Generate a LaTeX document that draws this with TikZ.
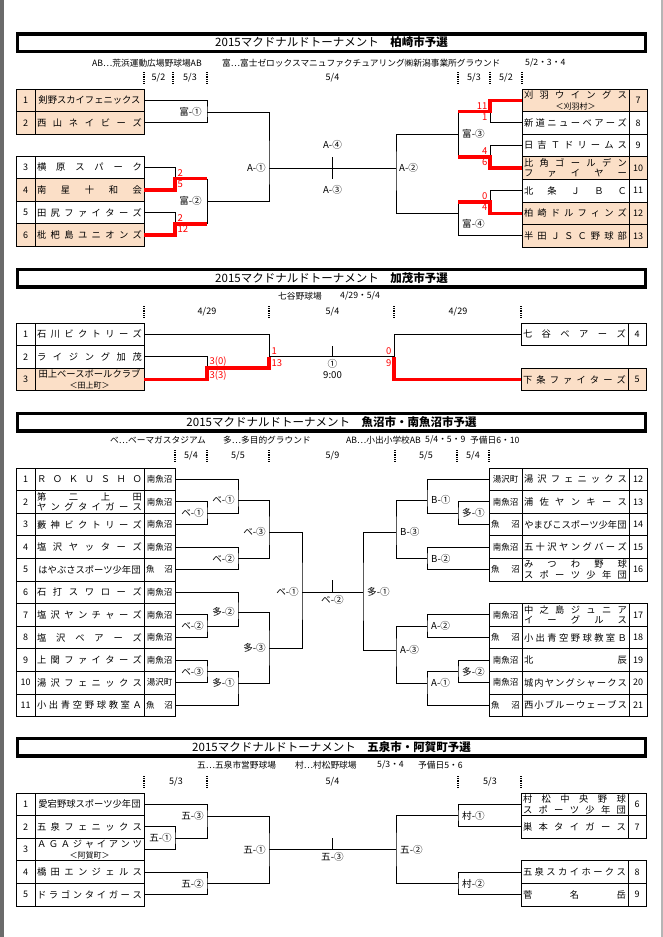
\documentclass[tikz,border=0pt]{standalone}
\usepackage{fontspec}
\setmainfont{Noto Sans CJK JP}
\usetikzlibrary{positioning}

\definecolor{peach}{HTML}{FBDFC7}
\definecolor{winred}{HTML}{FF0000}
\definecolor{pageedge}{HTML}{6B6B6B}

% spread a team name over the whole cell
\newcommand\tmname[1]{\makebox[\linewidth][s]{\spaceskip=0pt plus 1fil\xspaceskip=0pt plus 1fil\relax#1}}
\newcommand\smallnote{\fontsize{8}{9}\selectfont}

\tikzset{
  cell/.style={draw, line width=0.8pt, outer sep=0pt, inner ysep=0pt, minimum height=22.6pt},
  team/.style={cell, inner xsep=2pt, text width=#1, align=center, font=\fontsize{9.3}{10.5}\selectfont},
  team/.default=105pt,
  num/.style={cell, inner xsep=0pt, minimum width=#1, font=\fontsize{9}{9}\selectfont},
  num/.default=19pt,
  area/.style={cell, inner xsep=2pt, text width=#1, align=center, font=\fontsize{8.5}{9}\selectfont},
  area/.default=27pt,
  bracket/.style={line width=0.9pt},
  winline/.style={draw=winred, line width=3.5pt},
  score/.style={text=winred, inner xsep=2.5pt, inner ysep=2pt, font=\fontsize{9.5}{9.5}\selectfont},
  match/.style={inner sep=1pt, font=\fontsize{9.6}{9.6}\selectfont},
  daymark/.style={line width=1.5pt, dash pattern=on 1pt off 0.8pt},
  day/.style={font=\fontsize{9}{9}\selectfont},
  venue/.style={anchor=west, inner sep=0pt, font=\fontsize{8.7}{9}\selectfont},
  titlebox/.style={draw, line width=3.5pt, minimum width=628pt, minimum height=17.5pt, inner sep=0pt, font=\fontsize{11.5}{12}\selectfont},
}

\begin{document}
\begin{tikzpicture}[x=1pt, y=-1pt]
\path[use as bounding box, fill=white] (0,0) rectangle (663,937);
\fill[pageedge] (0,0) rectangle (4,937);
\fill[pageedge!50] (661,0) rectangle (663,937);

% Kashiwazaki
\node[titlebox] (title1) at (331.5,42.5) {2015マクドナルドトーナメント　\textbf{柏崎市予選}};
\node[venue] (v1a) at (92,63) {AB…荒浜運動広場野球場AB};
\node[venue] (v1b) at (222,63) {富…富士ゼロックスマニュファクチュアリング㈱新潟事業所グラウンド};
\node[venue] (v1c) at (525,63) {5/2・3・4};
\foreach \x in {144,173,207,458,490,522} \draw[daymark] (\x,72) -- (\x,84);
\node[day] (d1a) at (158.5,78) {5/2};
\node[day] (d1b) at (190,78) {5/3};
\node[day] (d1c) at (332.5,78) {5/4};
\node[day] (d1d) at (474,78) {5/3};
\node[day] (d1e) at (506,78) {5/2};

\foreach \n/\y/\c/\t in {
  1/89/peach/{剣野スカイフェニックス},
  2/111.6/peach/{\tmname{西 山 ネ イ ビ ー ズ}},
  3/156/white/{\tmname{横 原 ス パ ー ク}},
  4/178.6/peach/{\tmname{南 星 十 和 会}},
  5/201.2/white/{\tmname{田 尻 フ ァ イ タ ー ズ}},
  6/223.8/peach/{\tmname{枇 杷 島 ユ ニ オ ン ズ}}}{
  \node[team, fill=\c, anchor=north west] (ka\n) at (35,\y) {\t};
  \node[num, fill=\c, left=0pt of ka\n] (kn\n) {\n};
}
\foreach \n/\y/\c/\t in {
  7/89/peach/{\tmname{刈 羽 ウ イ ン グ ス}\\{\smallnote ＜刈羽村＞}},
  8/111.6/white/{\tmname{新 道 ニ ュ ー ベ ア ー ズ}},
  9/134.2/white/{\tmname{日 吉 Ｔ ド リ ー ム ス}},
  10/156.8/peach/{\tmname{比 角 ゴ ー ル デ ン}\\\tmname{フ ァ イ ヤ ー}},
  11/179.4/white/{\tmname{北 条 Ｊ Ｂ Ｃ}},
  12/202/peach/{\tmname{柏 崎 ド ル フ ィ ン ズ}},
  13/224.6/peach/{\tmname{半 田 Ｊ Ｓ Ｃ 野 球 部}}}{
  \node[team=103pt, fill=\c, anchor=north west] (ka\n) at (522,\y) {\t};
  \node[num=18pt, fill=\c, right=0pt of ka\n] (kn\n) {\n};
}

\coordinate (j12) at (207,112);
\coordinate (j34) at (175,178.6);
\coordinate (j56) at (175,223.8);
\coordinate (f2) at (207,201.2);
\coordinate (a1) at (269,168);
\coordinate (a2) at (396,168);
\coordinate (c1) at (332.5,168);
\draw[bracket] (ka1.east) -| (j12) |- (ka2.east);
\draw[bracket] (ka3.east) -| (j34);
\draw[bracket] (ka5.east) -| (j56);
\draw[bracket] (j34 -| f2) -- (j56 -| f2);
\draw[winline] (ka4.east) -| (j34) -- (j34 -| f2);
\draw[winline] (ka6.east) -| (j56) -- (j56 -| f2);
\draw[bracket] (j12) -| (a1) |- (f2);
\draw[bracket] (a1) -- (a2);
\draw[bracket] (c1) ++(0,-11) -- ++(0,22);
\node[match, left=4pt of j12] (m1) {富-①};
\node[match, left=4pt of f2] (m2) {富-②};
\node[match, left=2pt of a1] (m3) {A-①};
\node[match] (m4) at (332.5,145) {A-④};
\node[match] (m5) at (332.5,190) {A-③};
\node[score, anchor=south west] (s1) at (j34) {2};
\node[score, anchor=north west] (s2) at (j34) {5};
\node[score, anchor=south west] (s3) at (j56) {2};
\node[score, anchor=north west] (s4) at (j56) {12};

\coordinate (j78) at (490,111.6);
\coordinate (j910) at (490,156.8);
\coordinate (j1112) at (490,202);
\coordinate (f3) at (458,134.2);
\coordinate (f4) at (458,213);
\draw[bracket] (ka8.west) -| (j78);
\draw[bracket] (ka9.west) -| (j910);
\draw[bracket] (j78 -| f3) -- (j910 -| f3);
\draw[bracket] (ka11.west) -| (j1112);
\draw[bracket] (ka13.west) -| (j1112 -| f4);
\draw[winline] (ka7.west) -| (j78) -- (j78 -| f3);
\draw[winline] (ka10.west) -| (j910) -- (j910 -| f3);
\draw[winline] (ka12.west) -| (j1112) -- (j1112 -| f4);
\draw[bracket] (f3) -| (a2) |- (f4);
\node[match, right=3pt of f3] (m6) {富-③};
\node[match, anchor=west] (m7) at (461,224) {富-④};
\node[match, right=2pt of a2] (m8) {A-②};
\node[score, anchor=south east] (s5) at (j78) {11};
\node[score, anchor=north east] (s6) at (j78) {1};
\node[score, anchor=south east] (s7) at (j910) {4};
\node[score, anchor=north east] (s8) at (j910) {6};
\node[score, anchor=south east] (s9) at (j1112) {0};
\node[score, anchor=north east] (s10) at (j1112) {4};

% Kamo
\node[titlebox] (title2) at (331.5,278) {2015マクドナルドトーナメント　\textbf{加茂市予選}};
\node[venue] (v2a) at (278,296) {七谷野球場};
\node[venue] (v2b) at (340,296) {4/29・5/4};
\foreach \x in {144,269,394,521} \draw[daymark] (\x,306) -- (\x,318);
\node[day] (d2a) at (207,312) {4/29};
\node[day] (d2b) at (332.5,312) {5/4};
\node[day] (d2c) at (458,312) {4/29};

\foreach \n/\y/\c/\t in {
  1/323/white/{\tmname{石 川 ビ ク ト リ ー ズ}},
  2/345.6/white/{\tmname{ラ イ ジ ン グ 加 茂}},
  3/368.2/peach/{田上ベースボールクラブ\\{\smallnote ＜田上町＞}}}{
  \node[team, fill=\c, anchor=north west] (ki\n) at (35,\y) {\t};
  \node[num, fill=\c, left=0pt of ki\n] (kin\n) {\n};
}
\foreach \n/\y/\c/\t in {
  4/323/white/{\tmname{七 谷 ベ ア ー ズ}},
  5/368.2/peach/{\tmname{下 条 フ ァ イ タ ー ズ}}}{
  \node[team=103pt, fill=\c, anchor=north west] (ki\n) at (521,\y) {\t};
  \node[num=18pt, fill=\c, right=0pt of ki\n] (kin\n) {\n};
}

\coordinate (k23) at (207,368.2);
\coordinate (k1) at (269,356.9);
\coordinate (k4) at (394,356.9);
\coordinate (c2) at (332.5,356.9);
\draw[bracket] (ki2.east) -| (k23);
\draw[bracket] (ki1.east) -| (k1);
\draw[bracket] (k1) -- (k4);
\draw[bracket] (ki4.west) -| (k4);
\draw[bracket] (c2) -- ++(0,-11);
\draw[winline] (ki3.east) -| (k23) -| (k1);
\draw[winline] (ki5.west) -| (k4);
\node[match, below=1.5pt of c2] (m9) {①};
\node[match, below=0.5pt of m9] (m10) {9:00};
\node[score, anchor=south west] (s11) at (k23) {3(0)};
\node[score, anchor=north west] (s12) at (k23) {3(3)};
\node[score, anchor=south west] (s13) at (k1) {1};
\node[score, anchor=north west] (s14) at (k1) {13};
\node[score, anchor=south east] (s15) at (k4) {0};
\node[score, anchor=north east] (s16) at (k4) {9};

% Uonuma / Minamiuonuma
\node[titlebox] (title3) at (331.5,422) {2015マクドナルドトーナメント　\textbf{魚沼市・南魚沼市予選}};
\node[venue] (v3a) at (110,440) {ベ…ベーマガスタジアム};
\node[venue] (v3b) at (223,440) {多…多目的グラウンド};
\node[venue] (v3c) at (346,440) {AB…小出小学校AB};
\node[venue] (v3d) at (425,440) {5/4・5・9};
\node[venue] (v3e) at (470,440) {予備日6・10};
\foreach \x in {175,207,269,395,457,489} \draw[daymark] (\x,450) -- (\x,462);
\node[day] (d3a) at (191,456) {5/4};
\node[day] (d3b) at (238,456) {5/5};
\node[day] (d3c) at (332.5,456) {5/9};
\node[day] (d3d) at (426,456) {5/5};
\node[day] (d3e) at (473,456) {5/4};

\foreach \n/\y/\r/\t in {
  1/468/南魚沼/{\tmname{Ｒ Ｏ Ｋ Ｕ Ｓ Ｈ Ｏ}},
  2/490.6/南魚沼/{\tmname{第 二 上 田}\\\tmname{ヤ ン グ タ イ ガ ー ス}},
  3/513.2/南魚沼/{\tmname{藪 神 ビ ク ト リ ー ズ}},
  4/535.8/南魚沼/{\tmname{塩 沢 ヤ ッ タ ー ズ}},
  5/558.4/{\tmname{魚 沼}}/{はやぶさスポーツ少年団},
  6/581/南魚沼/{\tmname{石 打 ス ワ ロ ー ズ}},
  7/603.6/南魚沼/{\tmname{塩 沢 ヤ ン チ ャ ー ズ}},
  8/626.2/南魚沼/{\tmname{塩 沢 ベ ア ー ズ}},
  9/648.8/南魚沼/{\tmname{上 関 フ ァ イ タ ー ズ}},
  10/671.4/湯沢町/{\tmname{湯 沢 フ ェ ニ ッ ク ス}},
  11/694/{\tmname{魚 沼}}/{\tmname{小 出 青 空 野 球 教 室 Ａ}}}{
  \node[team, anchor=north west] (uo\n) at (35,\y) {\t};
  \node[num, left=0pt of uo\n] (un\n) {\n};
  \node[area, right=0pt of uo\n] (ua\n) {\r};
}
\foreach \n/\y/\r/\t in {
  12/468/湯沢町/{\tmname{湯 沢 フ ェ ニ ッ ク ス}},
  13/490.6/南魚沼/{\tmname{浦 佐 ヤ ン キ ー ス}},
  14/513.2/{\tmname{魚 沼}}/{やまびこスポーツ少年団},
  15/535.8/南魚沼/{\tmname{五 十 沢 ヤ ン グ バ ー ズ}},
  16/558.4/{\tmname{魚 沼}}/{\tmname{み つ わ 野 球}\\\tmname{ス ポ ー ツ 少 年 団}},
  17/603.6/南魚沼/{\tmname{中 之 島 ジ ュ ニ ア}\\\tmname{イ ー グ ル ス}},
  18/626.2/{\tmname{魚 沼}}/{\tmname{小 出 青 空 野 球 教 室 Ｂ}},
  19/648.8/南魚沼/{\tmname{北 辰}},
  20/671.4/南魚沼/{\tmname{城 内 ヤ ン グ シ ャ ー ク ス}},
  21/694/{\tmname{魚 沼}}/{\tmname{西 小 ブ ル ー ウ ェ ー ブ ス}}}{
  \node[area=29pt, anchor=north west] (ua\n) at (489,\y) {\r};
  \node[team=103pt, right=0pt of ua\n] (uo\n) {\t};
  \node[num=18pt, right=0pt of uo\n] (un\n) {\n};
}

\coordinate (j23) at (207,513.2);
\coordinate (b1) at (238,500);
\coordinate (b2) at (238,558.4);
\coordinate (b3) at (269,532);
\coordinate (jb78) at (207,626.2);
\coordinate (t2) at (238,612);
\coordinate (jb910) at (207,671.4);
\coordinate (t1) at (238,683);
\coordinate (t3) at (269,648);
\coordinate (fl) at (302,592);
\coordinate (fr) at (363,592);
\coordinate (c3) at (332.5,592);
\draw[bracket] (ua2.east) -| (j23) |- (ua3.east);
\draw[bracket] (ua1.east) -| (b1) |- (j23);
\draw[bracket] (ua4.east) -| (b2) |- (ua5.east);
\draw[bracket] (b1) -| (b3) |- (b2);
\draw[bracket] (ua7.east) -| (jb78) |- (ua8.east);
\draw[bracket] (ua6.east) -| (t2) |- (jb78);
\draw[bracket] (ua9.east) -| (jb910) |- (ua10.east);
\draw[bracket] (jb910) -| (t1) |- (ua11.east);
\draw[bracket] (t2) -| (t3) |- (t1);
\draw[bracket] (b3) -| (fl) |- (t3);
\draw[bracket] (fl) -- (fr);
\draw[bracket] (c3) -- ++(0,-12);
\node[match, left=2pt of b1] (m11) {ベ-①};
\node[match, left=2pt of j23] (m12) {ベ-①};
\node[match, left=2pt of b2] (m13) {ベ-②};
\node[match, left=2pt of b3] (m14) {ベ-③};
\node[match, left=2pt of t2] (m15) {多-②};
\node[match, left=2pt of jb78] (m16) {ベ-②};
\node[match, left=2pt of jb910] (m17) {ベ-③};
\node[match, left=2pt of t1] (m18) {多-①};
\node[match, left=2pt of t3] (m19) {多-③};
\node[match, left=2pt of fl] (m20) {ベ-①};
\node[match, below=2pt of c3] (m21) {ベ-②};

\coordinate (jr1314) at (458,513.2);
\coordinate (bb1) at (427,500);
\coordinate (bb2) at (427,558.4);
\coordinate (bb3) at (396,532);
\coordinate (aa2) at (427,626.2);
\coordinate (jr1920) at (458,671.4);
\coordinate (aa1) at (427,683);
\coordinate (aa3) at (396,650);
\draw[bracket] (ua13.west) -| (jr1314) |- (ua14.west);
\draw[bracket] (ua12.west) -| (bb1) |- (jr1314);
\draw[bracket] (ua15.west) -| (bb2) |- (ua16.west);
\draw[bracket] (bb1) -| (bb3) |- (bb2);
\draw[bracket] (ua17.west) -| (aa2) |- (ua18.west);
\draw[bracket] (ua19.west) -| (jr1920) |- (ua20.west);
\draw[bracket] (jr1920) -| (aa1) |- (ua21.west);
\draw[bracket] (aa2) -| (aa3) |- (aa1);
\draw[bracket] (bb3) -| (fr) |- (aa3);
\node[match, right=3pt of bb1] (m22) {B-①};
\node[match, right=3pt of jr1314] (m23) {多-①};
\node[match, right=3pt of bb2] (m24) {B-②};
\node[match, right=3pt of bb3] (m25) {B-③};
\node[match, right=3pt of aa2] (m26) {A-②};
\node[match, right=3pt of jr1920] (m27) {多-②};
\node[match, right=3pt of aa1] (m28) {A-①};
\node[match, right=3pt of aa3] (m29) {A-③};
\node[match, right=3pt of fr] (m30) {多-①};

% Gosen / Aga
\node[titlebox] (title4) at (331.5,747) {2015マクドナルドトーナメント　\textbf{五泉市・阿賀町予選}};
\node[venue] (v4a) at (197,765) {五…五泉市営野球場};
\node[venue] (v4b) at (295,765) {村…村松野球場};
\node[venue] (v4c) at (377,765) {5/3・4};
\node[venue] (v4d) at (418,765) {予備日5・6};
\foreach \x in {144,207,458,521} \draw[daymark] (\x,776) -- (\x,788);
\node[day] (d4a) at (176,782) {5/3};
\node[day] (d4b) at (332.5,782) {5/4};
\node[day] (d4c) at (490,782) {5/3};

\foreach \n/\y/\t in {
  1/793/{愛宕野球スポーツ少年団},
  2/815.6/{\tmname{五 泉 フ ェ ニ ッ ク ス}},
  3/838.2/{\tmname{Ａ Ｇ Ａ ジ ャ イ ア ン ツ}\\{\smallnote ＜阿賀町＞}},
  4/860.8/{\tmname{橋 田 エ ン ジ ェ ル ス}},
  5/883.4/{\tmname{ド ラ ゴ ン タ イ ガ ー ス}}}{
  \node[team, anchor=north west] (go\n) at (35,\y) {\t};
  \node[num, left=0pt of go\n] (gn\n) {\n};
}
\foreach \n/\y/\t in {
  6/793/{\tmname{村 松 中 央 野 球}\\\tmname{ス ポ ー ツ 少 年 団}},
  7/815.6/{\tmname{巣 本 タ イ ガ ー ス}},
  8/860.8/{\tmname{五 泉 ス カ イ ホ ー ク ス}},
  9/883.4/{\tmname{菅 名 岳}}}{
  \node[team=103pt, anchor=north west] (go\n) at (521,\y) {\t};
  \node[num=18pt, right=0pt of go\n] (gn\n) {\n};
}

\coordinate (g1) at (175,838.2);
\coordinate (g3) at (207,816);
\coordinate (g2) at (207,883.4);
\coordinate (gg1) at (269,849.5);
\coordinate (mr1) at (458,815.6);
\coordinate (mr2) at (458,883.4);
\coordinate (gg2) at (396,849.5);
\coordinate (c4) at (332.5,849.5);
\draw[bracket] (go2.east) -| (g1) |- (go3.east);
\draw[bracket] (go1.east) -| (g3) |- (g1);
\draw[bracket] (go4.east) -| (g2) |- (go5.east);
\draw[bracket] (g3) -| (gg1) |- (g2);
\draw[bracket] (go6.west) -| (mr1) |- (go7.west);
\draw[bracket] (go8.west) -| (mr2) |- (go9.west);
\draw[bracket] (mr1) -| (gg2) |- (mr2);
\draw[bracket] (gg1) -- (gg2);
\draw[bracket] (c4) -- ++(0,-12);
\node[match, left=2pt of g1] (m31) {五-①};
\node[match, left=2pt of g3] (m32) {五-③};
\node[match, left=2pt of g2] (m33) {五-②};
\node[match, left=2pt of gg1] (m34) {五-①};
\node[match, right=3pt of mr1] (m35) {村-①};
\node[match, right=3pt of mr2] (m36) {村-②};
\node[match, right=3pt of gg2] (m37) {五-②};
\node[match, below=2pt of c4] (m38) {五-③};

\end{tikzpicture}
\end{document}
